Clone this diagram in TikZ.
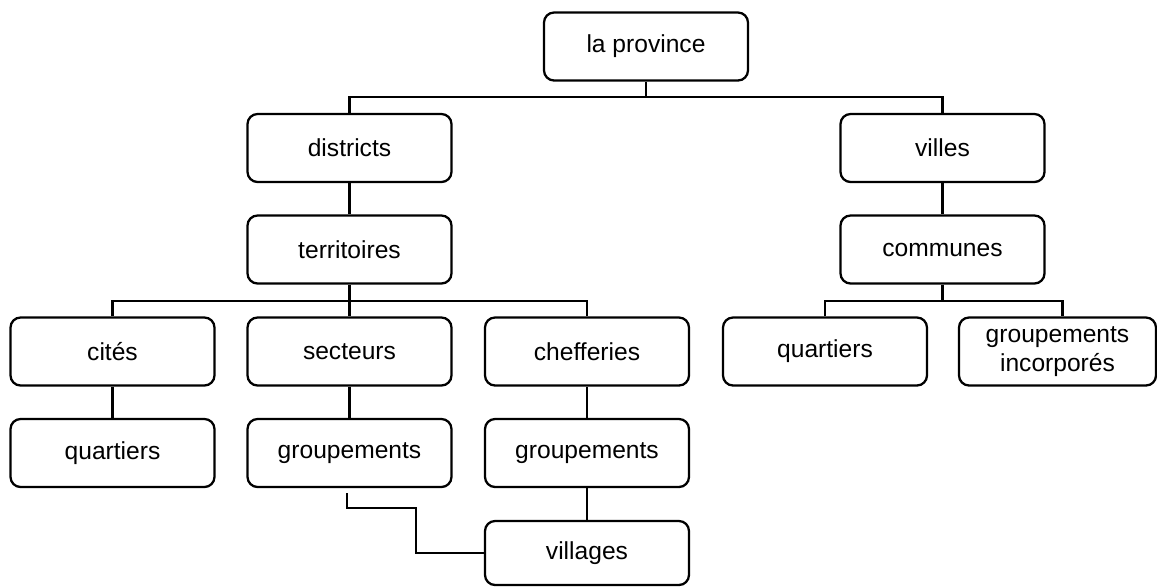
\documentclass[tikz,border=0pt]{standalone}
\usepackage{fontspec}
\setmainfont{Liberation Sans}
\begin{document}
\begin{tikzpicture}[x=0.02cm,y=-0.02cm,
  box/.style={draw,line width=1.3pt,rounded corners=0.2cm,minimum width=4.08cm,minimum height=1.36cm,align=center,inner sep=2pt,font=\fontsize{14pt}{16.5pt}\selectfont},
  conn/.style={line width=1.3pt}]
\useasboundingbox (0,0) rectangle (1157,586);
\node[box] (prov) at (646,46.5) {la province};
\node[box] (dist) at (349.5,148) {districts};
\node[box] (ter) at (349.5,249.5) {territoires};
\node[box] (villes) at (942.5,148) {villes};
\node[box] (comm) at (942.5,249.5) {communes};
\node[box] (cites) at (112.5,351.5) {cités};
\node[box] (sect) at (349.5,351.5) {secteurs};
\node[box] (chef) at (587,351.5) {chefferies};
\node[box] (quartL) at (112.5,453) {quartiers};
\node[box] (grp1) at (349.5,453) {groupements};
\node[box] (grp2) at (587,453) {groupements};
\node[box,minimum height=1.28cm] (vill) at (587,553) {villages};
\node[box] (quartR) at (825,351.5) {quartiers};
\node[box,minimum width=3.94cm] (gi) at (1057.5,351.5) {groupements\\incorporés};
\coordinate (b1) at (646,97);
\coordinate (b2) at (349.5,301);
\coordinate (b3) at (942.5,301);
\coordinate (e1) at (347,493);
\coordinate (e2) at (416,508);
\draw[conn] (prov.south) -- (b1);
\draw[conn] (dist.north) |- (b1) -| (villes.north);
\draw[conn] (dist.south) -- (ter.north);
\draw[conn] (villes.south) -- (comm.north);
\draw[conn] (ter.south) -- (sect.north);
\draw[conn] (cites.north) |- (b2) -| (chef.north);
\draw[conn] (comm.south) -- (b3);
\draw[conn] (quartR.north) |- (b3) -| ([xshift=0.1cm]gi.north);
\draw[conn] (cites.south) -- (quartL.north);
\draw[conn] (sect.south) -- (grp1.north);
\draw[conn] (chef.south) -- (grp2.north);
\draw[conn] (grp2.south) -- (vill.north);
\draw[conn] (e1) |- (e2) |- (vill.west);
\end{tikzpicture}
\end{document}
